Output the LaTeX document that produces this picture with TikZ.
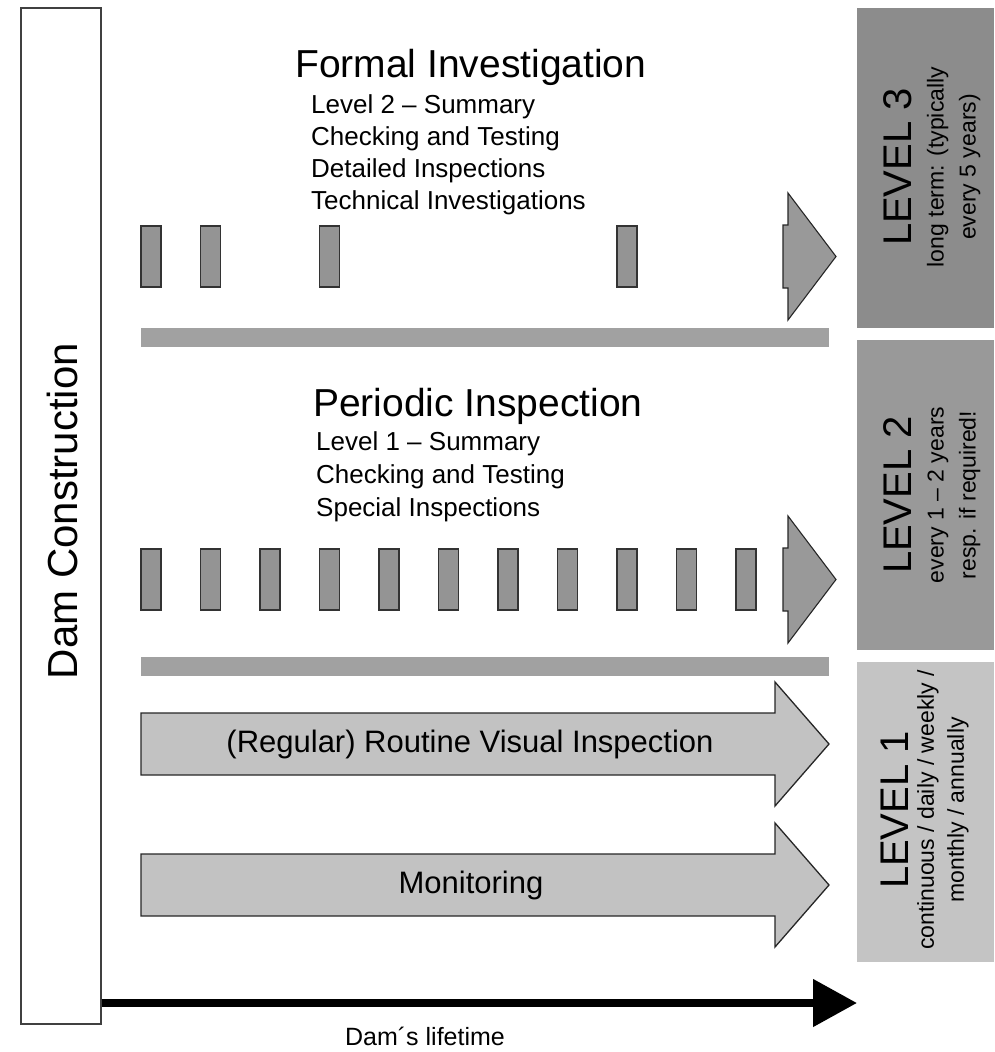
\documentclass[tikz,border=0pt]{standalone}
\usepackage{fontspec}
\setmainfont{Liberation Sans}
\usetikzlibrary{arrows.meta,positioning}

\begin{document}
\begin{tikzpicture}[x=1pt,y=-1pt,
damcol/.style={draw=black!75,line width=1.2pt,fill=white,minimum width=80pt,minimum height=1016pt,inner sep=0pt},
levelbox/.style={minimum width=137pt,inner sep=0pt},
leveltext/.style={rotate=90,align=center,inner sep=0pt,font=\fontsize{23}{32}\selectfont},
slot/.style={draw=black!80,line width=1.3pt,fill=black!42,minimum width=20pt,minimum height=61pt,inner sep=0pt},
bar/.style={fill=black!37},
tiphead/.style={draw=black!85,line width=1.1pt,fill=black!40},
bigarrow/.style={draw=black!85,line width=1.3pt,fill=black!24},
lifeline/.style={line width=8pt,-{Triangle[length=44pt,width=46pt]}},
title/.style={font=\fontsize{39}{44}\selectfont,inner sep=0pt,anchor=base west},
items/.style={font=\fontsize{26}{32}\selectfont,inner sep=0pt,align=left,anchor=north west}]
\useasboundingbox (0,0) rectangle (995,1052);

% dam construction column and lifetime axis
\node[damcol](dam) at (61,516){};
\node[rotate=90,font=\fontsize{42}{48}\selectfont](damtext) at (62,511){Dam Construction};
\coordinate (tend) at (857,1003);
\draw[lifeline](dam.east |- tend)--(tend);
\node[font=\fontsize{25}{30}\selectfont](life) at (425,1036){Dam\textasciiacute s lifetime};

% level boxes
\node[levelbox,fill=black!45,minimum height=320pt](lvthree) at (925.5,168){};
\node[levelbox,fill=black!40,minimum height=310pt](lvtwo) at (925.5,495){};
\node[levelbox,fill=black!23,minimum height=300pt](lvone) at (925.5,812){};
\node[leveltext](lvthreetext) at (932,167){{\fontsize{40}{48}\selectfont LEVEL 3}\\long term: (typically\\every 5 years)};
\node[leveltext](lvtwotext) at (932,495){{\fontsize{40}{48}\selectfont LEVEL 2}\\every 1 -- 2 years\\resp. if required!};
\node[leveltext,font=\fontsize{23}{30}\selectfont](lvonetext) at (925,810){{\fontsize{40}{48}\selectfont LEVEL 1}\\[-5pt]continuous / daily / weekly /\\monthly / annually};

% formal investigation
\node[title](formal) at (295,77){Formal Investigation};
\node[items](formalitems) at (311,94){Level 2 -- Summary\\Checking and Testing\\Detailed Inspections\\Technical Investigations};
\foreach \i in {0,1,3,8}
  \node[slot](f\i) at (151+59.5*\i,256.5){};
\draw[tiphead](783,225)--(788,225)--(788,193)--(836,256.5)--(788,320)--(788,288)--(783,288)--cycle;
\fill[bar](141,328) rectangle (829,347);

% periodic inspection
\node[title](periodic) at (313,416){Periodic Inspection};
\node[items,font=\fontsize{26}{33}\selectfont](periodicitems) at (316,431){Level 1 -- Summary\\Checking and Testing\\Special Inspections};
\foreach \i in {0,...,10}
  \node[slot](p\i) at (151+59.5*\i,579.5){};
\draw[tiphead](783,548)--(788,548)--(788,516)--(836,579.5)--(788,643)--(788,611)--(783,611)--cycle;
\fill[bar](141,657) rectangle (829,676);

% level 1 arrows
\draw[bigarrow](141,713)--(775,713)--(775,682)--(829,744)--(775,806)--(775,775)--(141,775)--cycle;
\node[font=\fontsize{31}{36}\selectfont](routine) at (470,744){(Regular) Routine Visual Inspection};
\draw[bigarrow](141,854)--(775,854)--(775,823)--(829,885)--(775,947)--(775,916)--(141,916)--cycle;
\node[font=\fontsize{31}{36}\selectfont](monitoring) at (471,885){Monitoring};
\end{tikzpicture}
\end{document}
